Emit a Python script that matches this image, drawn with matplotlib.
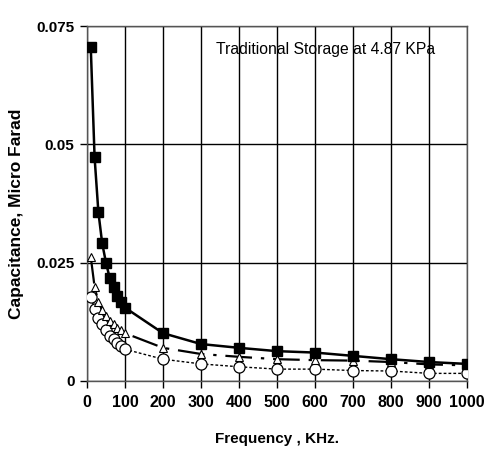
import numpy as np
import matplotlib
matplotlib.use('Agg')
import matplotlib.pyplot as plt

# frequency, KHz
freq = [10, 20, 30, 40, 50, 60, 70, 80, 90, 100, 200, 300, 400, 500, 600, 700, 800, 900, 1000]

# capacitance, micro farad
cap_sq = [0.0705, 0.0473, 0.0357, 0.0291, 0.0250, 0.0217, 0.0198, 0.0180, 0.0167, 0.0155,
          0.0101, 0.0078, 0.0070, 0.0063, 0.0060, 0.0053, 0.0046, 0.0040, 0.0036]
cap_tri = [0.0262, 0.0199, 0.0167, 0.0150, 0.0137, 0.0127, 0.0120, 0.0113, 0.0107, 0.0101,
           0.0070, 0.0057, 0.0051, 0.0046, 0.0044, 0.0043, 0.0040, 0.0035, 0.0033]
cap_circ = [0.0177, 0.0153, 0.0134, 0.0120, 0.0108, 0.0096, 0.0088, 0.0080, 0.0073, 0.0067,
            0.0046, 0.0036, 0.0030, 0.0025, 0.0025, 0.0022, 0.0021, 0.0016, 0.0016]

xticks = np.arange(0, 1001, 100)
yticks = [0, 0.025, 0.05, 0.075]
ytick_labels = ['0', '0.025', '0.05', '0.075']

plt.rcParams['font.family'] = ['Liberation Sans', 'DejaVu Sans']

fig = plt.figure(figsize=(4.97, 4.68), dpi=100)
ax = fig.add_axes([0.175, 0.186, 0.765, 0.758])

ax.plot(freq, cap_circ, color='black', lw=1, ls=(0, (2, 1.5)), marker='o', ms=8,
        mfc='white', mec='black', mew=0.9, zorder=3)
ax.plot(freq, cap_tri, color='black', lw=1.6, ls=(0, (12, 4, 1.5, 4)), marker='^', ms=6,
        mfc='white', mec='black', mew=0.8, zorder=4)
ax.plot(freq, cap_sq, color='black', lw=1.8, marker='s', ms=7, mfc='black', mec='black', zorder=5)

ax.set_xlim(0, 1000)
ax.set_ylim(0, 0.075)
ax.set_xticks(xticks)
ax.set_yticks(yticks)
ax.set_yticklabels(ytick_labels)
ax.grid(True, color='black', lw=1)
ax.set_axisbelow(True)
for s in ax.spines.values():
    s.set_color('#555555')
    s.set_linewidth(1)
ax.tick_params(axis='x', direction='out', length=5, width=1, labelsize=11.5, pad=5)
ax.tick_params(axis='y', direction='out', length=5, width=1, labelsize=11, pad=4)
for lab in ax.get_xticklabels() + ax.get_yticklabels():
    lab.set_fontweight('bold')

ax.set_xlabel('Frequency , KHz.', fontsize=11, fontweight='bold', labelpad=16)
ax.set_ylabel('Capacitance, Micro Farad', fontsize=12.5, fontweight='bold')
ax.yaxis.set_label_coords(-0.165, 0.47)
ax.text(0.34, 0.935, 'Traditional Storage at 4.87 KPa', transform=ax.transAxes,
        fontsize=11.3, ha='left', va='center')

plt.savefig('out.png', dpi=100)
